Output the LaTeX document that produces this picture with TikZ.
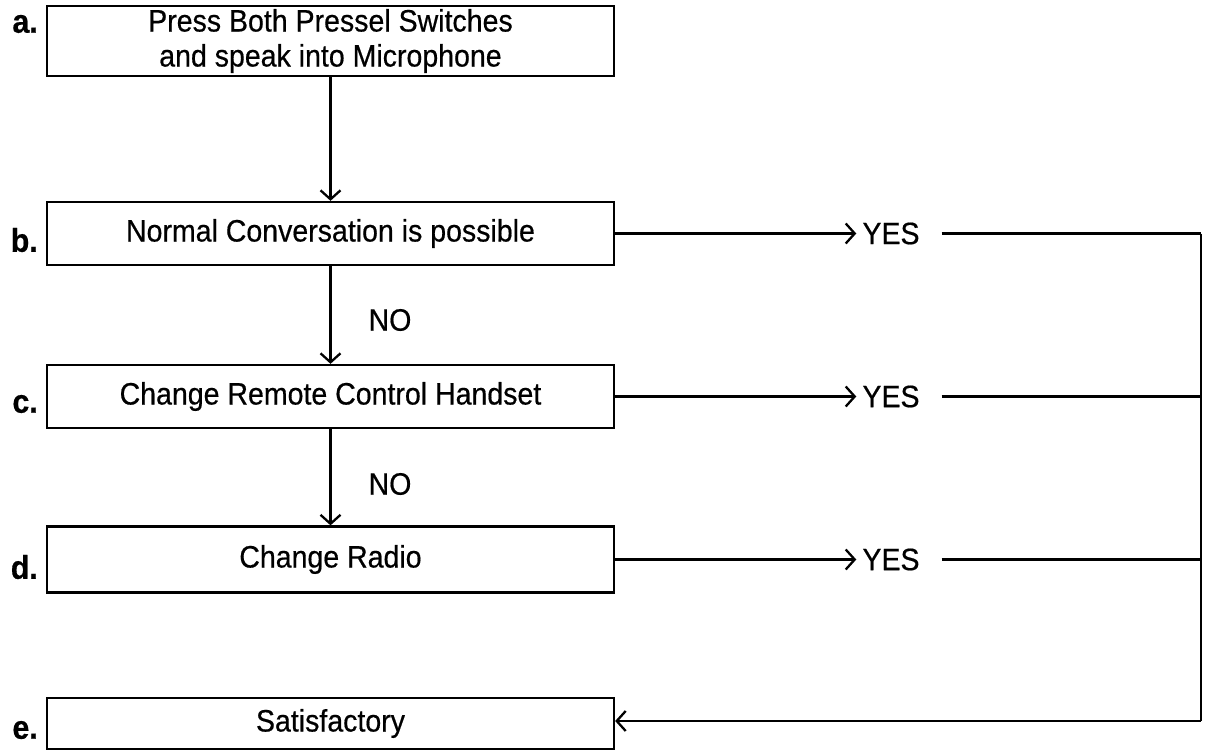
\documentclass[tikz,border=0pt]{standalone}
\usepackage{fontspec}
\setmainfont{Liberation Sans}[FakeStretch=0.92,FakeBold=0.5]
\usetikzlibrary{arrows.meta,positioning}

\tikzset{
  stepbox/.style={draw, line width=2.3pt, minimum width=567pt, minimum height=63pt,
    inner sep=0pt, align=center, font=\fontsize{31}{35}\selectfont},
  letter/.style={anchor=east, inner sep=0pt, font=\fontsize{33}{35}\selectfont\bfseries},
  answer/.style={inner sep=6pt, font=\fontsize{31}{35}\selectfont},
  flow/.style={line width=2.3pt, -{Straight Barb[length=9pt,width=20pt,line width=2.3pt]}},
  link/.style={line width=2.3pt}
}

\begin{document}
\begin{tikzpicture}[x=1pt,y=-1pt]
\useasboundingbox (0,0) rectangle (1209,754);

% steps
\node[stepbox, minimum height=70pt] (a) at (330.5,41) {Press Both Pressel Switches\\and speak into Microphone};
\node[stepbox] (b) at (330.5,233.5) {Normal Conversation is possible};
\node[stepbox] (c) at (330.5,396.5) {Change Remote Control Handset};
\node[stepbox, minimum height=66pt] (d) at (330.5,559.5) {Change Radio};
\node[stepbox, minimum height=51pt] (e) at (330.5,723.5) {Satisfactory};

% letters
\node[letter] (la) at (38,24) {a.};
\node[letter] (lb) at (38,240) {b.};
\node[letter] (lc) at (38,404) {c.};
\node[letter] (ld) at (38,567) {d.};
\node[letter] (le) at (38,730) {e.};

% down the NO side
\draw[flow] (a.south) -- (b.north);
\draw[flow] (b.south) -- (c.north);
\draw[flow] (c.south) -- (d.north);
\node[answer] (nob) at (390,320) {NO};
\node[answer] (noc) at (390,484) {NO};

% YES side
\node[answer] (yb) at (891,233.5) {YES};
\node[answer] (yc) at (891,396.5) {YES};
\node[answer] (yd) at (891,559.5) {YES};
\coordinate (jb) at (1201,233.5);
\coordinate (jc) at (1201,396.5);
\coordinate (jd) at (1201,559.5);
\coordinate (je) at (1201,721);

\draw[flow] (b.east) -- (yb.west);
\draw[flow] (c.east) -- (yc.west);
\draw[flow] (d.east) -- (yd.west);
\draw[link] ([xshift=16pt]yb.east) -- (jb);
\draw[link] ([xshift=16pt]yc.east) -- (jc);
\draw[link] ([xshift=16pt]yd.east) -- (jd);
\draw[link] (jb) -- (je);
\draw[flow] (je) -- (e.east |- je);
\end{tikzpicture}
\end{document}
